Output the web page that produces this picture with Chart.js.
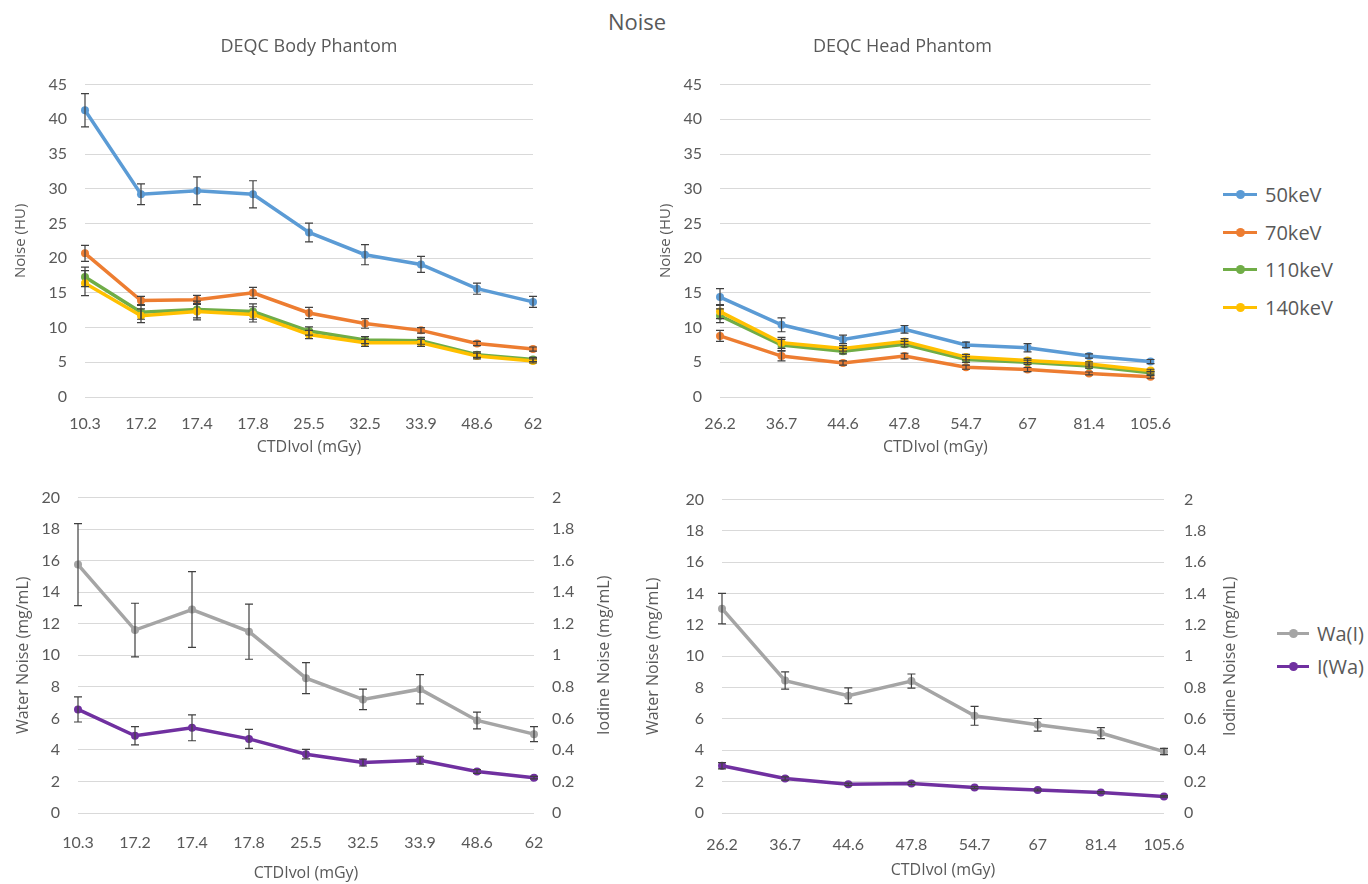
<!DOCTYPE html>
<html>
<head>
<meta charset="utf-8">
<script src="https://cdn.jsdelivr.net/npm/chart.js@4.4.1/dist/chart.umd.min.js"></script>
<style>
    body { margin: 0; background: #fff; width: 1368px; height: 884px; position: relative; overflow: hidden;
           font-family: "Open Sans", sans-serif; color: #595959; }
    canvas { position: absolute; }
    #titulo { position: absolute; top: 6px; left: 537px; width: 200px; text-align: center; font-size: 22px; }
    .fila { position: absolute; font-size: 20px; line-height: 24px; white-space: nowrap; }
    .marca { position: absolute; top: 10px; height: 3px; }
    .marca i { position: absolute; left: 50%; top: -3px; width: 9px; height: 9px; margin-left: -4.5px;
               border-radius: 50%; background: inherit; }
</style>
</head>
<body>
<div id="titulo">Noise</div>
<canvas id="chartBody" width="560" height="432" style="left:0px;top:30px"></canvas>
<canvas id="chartHead" width="540" height="432" style="left:640px;top:30px"></canvas>
<canvas id="chartAguaBody" width="630" height="414" style="left:0px;top:470px"></canvas>
<canvas id="chartAguaHead" width="610" height="414" style="left:640px;top:470px"></canvas>
<div id="leyendas"></div>

<script>
// Datos
const dosisBody = ["10.3", "17.2", "17.4", "17.8", "25.5", "32.5", "33.9", "48.6", "62"];
const dosisHead = ["26.2", "36.7", "44.6", "47.8", "54.7", "67", "81.4", "105.6"];

const energias = ["50keV", "70keV", "110keV", "140keV"];
const coloresEnergia = ["#5B9BD5", "#ED7D31", "#70AD47", "#FFC000"];

const body50 = [41.3, 29.2, 29.7, 29.2, 23.7, 20.5, 19.1, 15.6, 13.7];
const body50Err = [2.4, 1.5, 2.0, 1.95, 1.35, 1.45, 1.15, 0.8, 0.8];
const body70 = [20.7, 13.9, 14.0, 15.0, 12.1, 10.6, 9.6, 7.7, 6.9];
const body70Err = [1.15, 0.6, 0.65, 0.8, 0.8, 0.7, 0.4, 0.3, 0.3];
const body110 = [17.3, 12.2, 12.6, 12.3, 9.5, 8.2, 8.1, 6.1, 5.4];
const body110Err = [1.4, 1.0, 1.2, 1.1, 0.6, 0.5, 0.5, 0.4, 0.3];
const body140 = [16.4, 11.7, 12.3, 11.9, 9.0, 7.8, 7.8, 5.9, 5.2];
const body140Err = [1.8, 1.0, 1.2, 1.1, 0.6, 0.5, 0.5, 0.4, 0.3];

const head50 = [14.4, 10.4, 8.3, 9.75, 7.5, 7.1, 5.9, 5.1];
const head50Err = [1.2, 1.0, 0.6, 0.55, 0.4, 0.6, 0.3, 0.3];
const head70 = [8.8, 5.9, 4.9, 5.9, 4.3, 3.95, 3.4, 2.9];
const head70Err = [0.8, 0.7, 0.3, 0.4, 0.3, 0.3, 0.2, 0.2];
const head110 = [11.7, 7.5, 6.6, 7.6, 5.4, 5.0, 4.45, 3.5];
const head110Err = [1.0, 0.8, 0.4, 0.4, 0.4, 0.3, 0.3, 0.2];
const head140 = [12.3, 7.8, 7.0, 8.0, 5.75, 5.25, 4.75, 3.8];
const head140Err = [1.0, 0.8, 0.4, 0.4, 0.4, 0.3, 0.3, 0.2];

const materiales = ["Wa(I)", "I(Wa)"];
const coloresMaterial = ["#A5A5A5", "#7030A0"];

const aguaBody = [15.75, 11.6, 12.9, 11.5, 8.55, 7.2, 7.85, 5.87, 5.0];
const aguaBodyErr = [2.6, 1.7, 2.4, 1.75, 0.98, 0.65, 0.93, 0.53, 0.48];
const yodoBody = [0.657, 0.49, 0.54, 0.47, 0.373, 0.32, 0.335, 0.263, 0.224];
const yodoBodyErr = [0.08, 0.058, 0.082, 0.06, 0.03, 0.022, 0.025, 0.012, 0.008];

const aguaHead = [13.04, 8.45, 7.48, 8.42, 6.2, 5.63, 5.1, 3.92];
const aguaHeadErr = [0.97, 0.55, 0.5, 0.45, 0.6, 0.4, 0.35, 0.2];
const yodoHead = [0.301, 0.22, 0.183, 0.189, 0.162, 0.147, 0.131, 0.106];
const yodoHeadErr = [0.02, 0.01, 0.008, 0.008, 0.006, 0.006, 0.005, 0.005];

Chart.defaults.font.family = "Lato, 'Open Sans', sans-serif";
Chart.defaults.color = "#595959";

// Barras de error verticales con remate
const barrasError = {
    id: "barrasError",
    afterDatasetsDraw(chart) {
        const ctx = chart.ctx;
        chart.data.datasets.forEach((ds, i) => {
            if (!ds.errores) return;
            const meta = chart.getDatasetMeta(i);
            const escala = chart.scales[meta.yAxisID];
            ctx.save();
            ctx.strokeStyle = "#404040";
            ctx.lineWidth = 1.2;
            meta.data.forEach((pt, j) => {
                const y1 = escala.getPixelForValue(ds.data[j] + ds.errores[j]);
                const y2 = escala.getPixelForValue(ds.data[j] - ds.errores[j]);
                ctx.beginPath();
                ctx.moveTo(pt.x, y1); ctx.lineTo(pt.x, y2);
                ctx.moveTo(pt.x - 4, y1); ctx.lineTo(pt.x + 4, y1);
                ctx.moveTo(pt.x - 4, y2); ctx.lineTo(pt.x + 4, y2);
                ctx.stroke();
            });
            ctx.restore();
        });
    }
};

// Título del eje secundario, girado como en Excel
const tituloDerecho = {
    id: "tituloDerecho",
    afterDraw(chart, args, opts) {
        const esc = chart.scales.yDer;
        if (!esc || !opts.texto) return;
        const ctx = chart.ctx;
        ctx.save();
        ctx.translate(esc.right - opts.desplazamiento, (chart.chartArea.top + chart.chartArea.bottom) / 2);
        ctx.rotate(-Math.PI / 2);
        ctx.font = "16px 'Open Sans'";
        ctx.fillStyle = "#595959";
        ctx.textAlign = "center";
        ctx.textBaseline = "middle";
        ctx.fillText(opts.texto, 0, 0);
        ctx.restore();
    }
};

function serie(etiqueta, datos, errores, color, eje, orden) {
    return {
        label: etiqueta, data: datos, errores,
        borderColor: color, backgroundColor: color,
        borderWidth: 3.5, pointRadius: 4, pointHoverRadius: 4, pointBorderWidth: 0,
        yAxisID: eje, order: orden, tension: 0
    };
}

function ejeX(alto, padTicks, padTitulo) {
    return {
        grid: { display: false }, border: { display: false },
        ticks: { font: { size: 16 }, padding: padTicks, maxRotation: 0 },
        title: { display: true, text: "CTDIvol (mGy)", font: { family: "Open Sans", size: 16 },
                 padding: { top: 0, bottom: padTitulo } },
        afterFit: s => { s.height = alto; }
    };
}

function ejeY(pos, max, paso, titulo, ancho, padTicks, padTitulo, conRejilla) {
    return {
        position: pos, min: 0, max,
        grid: { display: conRejilla, color: "#D9D9D9", lineWidth: 1, drawTicks: false },
        border: { display: false },
        ticks: { stepSize: paso, font: { size: 16 }, padding: padTicks,
                 callback: v => String(+v.toFixed(1)) },
        title: { display: !!titulo, text: titulo, font: { family: "Open Sans", size: titulo && titulo.length > 12 ? 16 : 15 },
                 padding: { top: padTitulo, bottom: 0 } },
        afterFit: s => { s.width = ancho; }
    };
}

function opcionesBase(padding, titulo, completo) {
    return {
        responsive: false, animation: false,
        layout: { padding },
        plugins: {
            legend: { display: false }, tooltip: { enabled: false },
            title: titulo ? { display: true, text: titulo, fullSize: completo, color: "#595959",
                              font: { family: "Open Sans", size: 18, weight: "normal" },
                              padding: { top: 6, bottom: 27 } } : { display: false }
        }
    };
}

// Gráficos de ruido por energía
const datosBody = [body50, body70, body110, body140];
const erroresBody = [body50Err, body70Err, body110Err, body140Err];
const datosHead = [head50, head70, head110, head140];
const erroresHead = [head50Err, head70Err, head110Err, head140Err];

const opBody = opcionesBase({ top: 0, right: 27, bottom: 0, left: 0 }, "DEQC Body Phantom", false);
opBody.scales = { x: ejeX(65, 9, 5), y: ejeY("left", 45, 5, "Noise (HU)", 85, 18, 12, true) };
new Chart(chartBody, {
    type: "line",
    data: {
        labels: dosisBody,
        datasets: energias.map((e, i) => serie(e, datosBody[i], erroresBody[i], coloresEnergia[i], "y", 3 - i))
    },
    options: opBody,
    plugins: [barrasError]
});

const opHead = opcionesBase({ top: 0, right: 15, bottom: 0, left: 0 }, "DEQC Head Phantom", true);
opHead.scales = { x: ejeX(65, 9, 5), y: ejeY("left", 45, 5, "Noise (HU)", 80, 18, 17, true) };
new Chart(chartHead, {
    type: "line",
    data: {
        labels: dosisHead,
        datasets: energias.map((e, i) => serie(e, datosHead[i], erroresHead[i], coloresEnergia[i], "y", 3 - i))
    },
    options: opHead,
    plugins: [barrasError]
});

// Gráficos de ruido agua / yodo
function graficoMaterial(canvas, etiquetas, agua, aguaErr, yodo, yodoErr, medidas) {
    const op = opcionesBase({ top: 21, right: 0, bottom: 0, left: 0 }, null, false);
    op.scales = {
        x: ejeX(medidas.altoX, medidas.padX, medidas.padTituloX),
        y: ejeY("left", 20, 2, "Water Noise (mg/mL)", medidas.anchoIzq, 18, medidas.padTituloIzq, true),
        yDer: ejeY("right", 2, 0.2, "", medidas.anchoDer, medidas.padDer, 0, false)
    };
    op.plugins.tituloDerecho = { texto: "Iodine Noise (mg/mL)", desplazamiento: medidas.despTitulo };
    new Chart(canvas, {
        type: "line",
        data: {
            labels: etiquetas,
            datasets: [
                serie(materiales[0], agua, aguaErr, coloresMaterial[0], "y", 1),
                serie(materiales[1], yodo, yodoErr, coloresMaterial[1], "yDer", 0)
            ]
        },
        options: op,
        plugins: [barrasError, tituloDerecho]
    });
}

graficoMaterial(chartAguaBody, dosisBody, aguaBody, aguaBodyErr, yodoBody, yodoBodyErr,
    { altoX: 71, padX: 12, padTituloX: 1, anchoIzq: 78, padTituloIzq: 14, anchoDer: 96, padDer: 18, despTitulo: 26 });
graficoMaterial(chartAguaHead, dosisHead, aguaHead, aguaHeadErr, yodoHead, yodoHeadErr,
    { altoX: 71, padX: 14, padTituloX: 4, anchoIzq: 82, padTituloIzq: 4, anchoDer: 86, padDer: 20, despTitulo: 20 });

// Leyendas
function leyenda(nombres, colores, x, yInicio, paso, anchoLinea) {
    const cont = document.getElementById("leyendas");
    nombres.forEach((n, i) => {
        const fila = document.createElement("div");
        fila.className = "fila";
        fila.style.left = x + "px";
        fila.style.top = (yInicio + i * paso - 12) + "px";
        fila.innerHTML = `<span class="marca" style="left:0;width:${anchoLinea}px;background:${colores[i]}"><i></i></span>` +
                         `<span style="margin-left:${anchoLinea + 8}px">${n}</span>`;
        cont.appendChild(fila);
    });
}
leyenda(energias, coloresEnergia, 1223, 195, 37.5, 34);
leyenda(materiales, coloresMaterial, 1277, 634, 33, 32);
</script>
</body>
</html>
